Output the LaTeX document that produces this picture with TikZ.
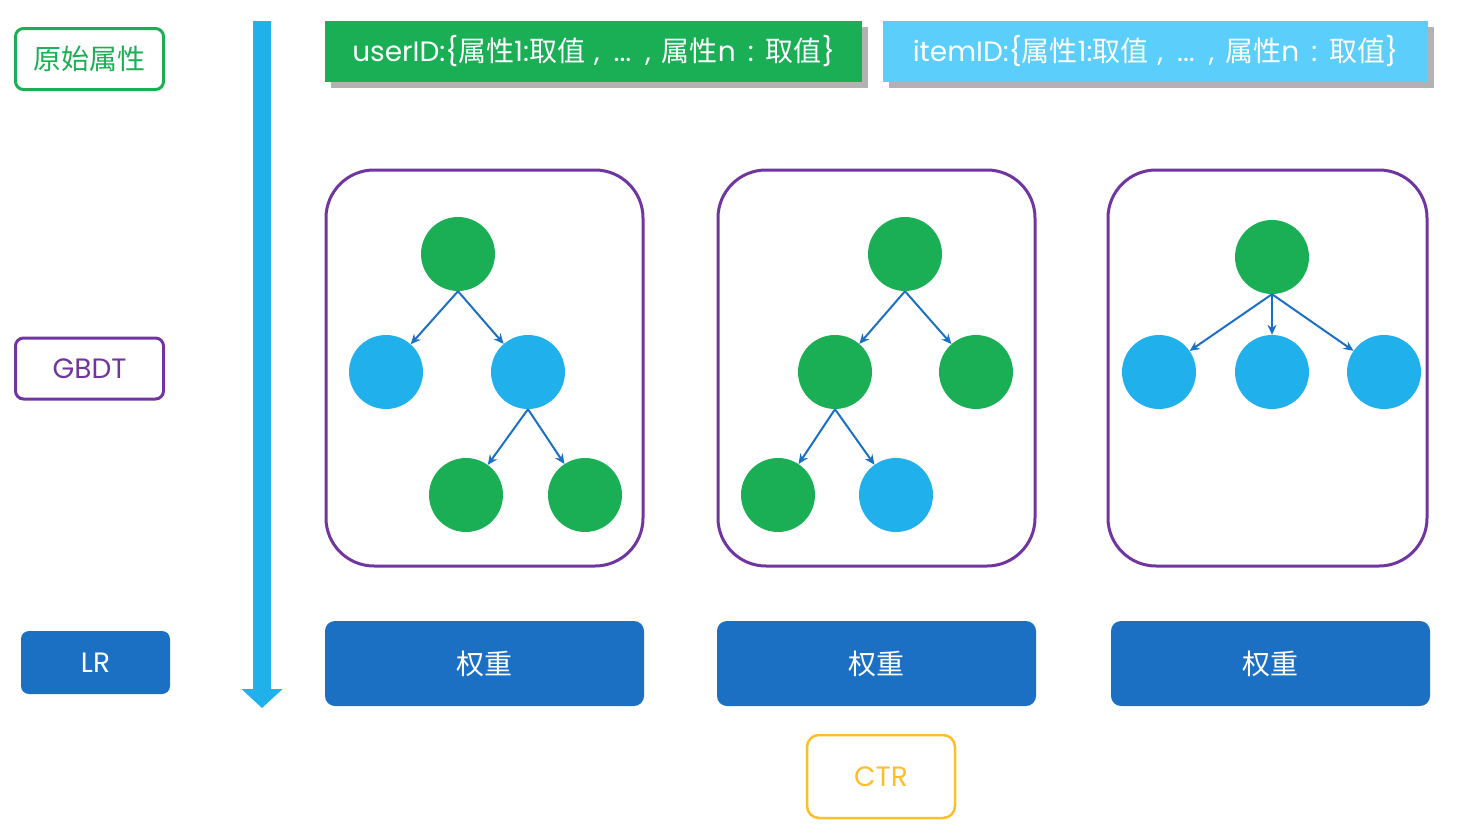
\documentclass[tikz,border=0pt]{standalone}
\usepackage{fontspec}
\newfontfamily\cjk{Noto Sans CJK SC}
\newfontfamily\lat{Poppins}
\usetikzlibrary{arrows.meta,shadows}
\definecolor{cgreen}{HTML}{1BAF55}
\definecolor{cblue}{HTML}{20B1EC}
\definecolor{dblue}{HTML}{1C70C4}
\definecolor{cpurple}{HTML}{7035A0}
\definecolor{cyellow}{HTML}{FDBE2C}
\definecolor{ccyan}{HTML}{5BCEFB}
\tikzset{
  labelbox/.style={draw, line width=3pt, rounded corners=8pt, minimum width=148pt, minimum height=61pt, inner sep=0pt},
  banner/.style={minimum width=537pt, minimum height=61pt, inner sep=0pt, text=white,
     drop shadow={shadow xshift=6pt, shadow yshift=-6pt, fill=black, opacity=0.3}},
  treebox/.style={draw=cpurple, line width=3pt, rounded corners=48pt, minimum width=317pt, minimum height=396pt},
  gnode/.style={circle, fill=cgreen, minimum size=74pt, inner sep=0pt},
  bnode/.style={circle, fill=cblue, minimum size=74pt, inner sep=0pt},
  tarrow/.style={draw=dblue, line width=2pt, -{Stealth[length=10pt,width=9pt]}},
  wbox/.style={fill=dblue, rounded corners=10pt, minimum width=319pt, minimum height=85pt, inner sep=0pt, text=white},
  bigtxt/.style={font=\fontsize{28}{30}\selectfont},
  midtxt/.style={font=\fontsize{28}{30}\selectfont}
}
\newcommand{\attrtext}[1]{{\lat #1:\{}{\cjk 属性}{\lat 1:}{\cjk 取值}{\lat\hspace{9pt},\hspace{14pt}...\hspace{14pt},\hspace{11pt}}{\cjk 属性}{\lat n\hspace{12pt}:\hspace{12pt}}{\cjk 取值}{\lat \}}}
\begin{document}
\begin{tikzpicture}[x=1pt,y=-1pt]
\useasboundingbox (0,0) rectangle (1468,825);

% left labels
\node[labelbox, draw=cgreen, text=cgreen, bigtxt] (orig) at (89.5,59) {\cjk 原始属性};
\node[labelbox, draw=cpurple, text=cpurple, bigtxt] (gbdt) at (89.5,368.5) {\lat GBDT};
\node[fill=dblue, rounded corners=8pt, minimum width=149pt, minimum height=63pt, inner sep=0pt, text=white, bigtxt] (lr) at (95.5,662.5) {\lat LR};

% big arrow
\coordinate (atop) at (262,21);
\coordinate (abot) at (262,708);
\draw[cblue, line width=18pt, -{Triangle[width=40pt,length=19pt]}] (atop) -- (abot);

% banners
\node[banner, fill=cgreen, midtxt] (user) at (593.5,51.5) {\attrtext{userID}};
\node[banner, fill=ccyan, minimum width=545pt, midtxt] (item) at (1155.5,51.5) {\attrtext{itemID}};

% tree boxes
\node[treebox] (t1) at (484.5,368) {};
\node[treebox] (t2) at (876.5,368) {};
\node[treebox, minimum width=319pt] (t3) at (1267.5,368) {};

% tree 1
\node[gnode] (a1) at (458,254) {};
\node[bnode] (b1) at (386,372) {};
\node[bnode] (c1) at (528,372) {};
\node[gnode] (d1) at (466,495) {};
\node[gnode] (e1) at (585,495) {};
\draw[tarrow] (a1.south) -- (b1);
\draw[tarrow] (a1.south) -- (c1);
\draw[tarrow] (c1.south) -- (d1);
\draw[tarrow] (c1.south) -- (e1);

% tree 2
\node[gnode] (a2) at (905,254) {};
\node[gnode] (b2) at (835,372) {};
\node[gnode] (c2) at (976,372) {};
\node[gnode] (d2) at (778,495) {};
\node[bnode] (e2) at (896,495) {};
\draw[tarrow] (a2.south) -- (b2);
\draw[tarrow] (a2.south) -- (c2);
\draw[tarrow] (b2.south) -- (d2);
\draw[tarrow] (b2.south) -- (e2);

% tree 3
\node[gnode] (a3) at (1272,257) {};
\node[bnode] (b3) at (1159,372) {};
\node[bnode] (c3) at (1272,372) {};
\node[bnode] (d3) at (1384,372) {};
\draw[tarrow] (a3.south) -- (b3);
\draw[tarrow] (a3.south) -- (c3);
\draw[tarrow] (a3.south) -- (d3);

% weight boxes
\node[wbox, bigtxt] (w1) at (484.5,663.5) {\cjk 权重};
\node[wbox, bigtxt] (w2) at (876.5,663.5) {\cjk 权重};
\node[wbox, bigtxt] (w3) at (1270.5,663.5) {\cjk 权重};

% CTR
\node[draw=cyellow, line width=2.5pt, rounded corners=12pt, minimum width=148pt, minimum height=83pt, inner sep=0pt, text=cyellow, bigtxt] (ctr) at (881,776.5) {\lat CTR};
\end{tikzpicture}
\end{document}
